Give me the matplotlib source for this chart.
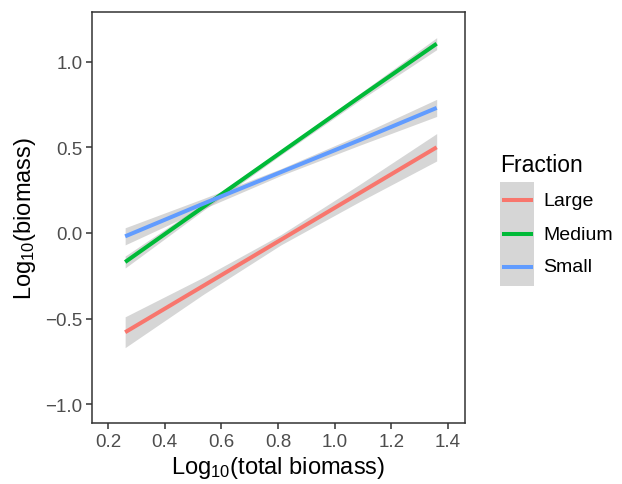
import matplotlib
matplotlib.use("Agg")
import matplotlib.pyplot as plt
from matplotlib.patches import Rectangle
from matplotlib.lines import Line2D

plt.rcParams['font.family'] = ['Liberation Sans', 'DejaVu Sans']
plt.rcParams['mathtext.fontset'] = 'custom'
plt.rcParams['mathtext.rm'] = 'Liberation Sans'
plt.rcParams['mathtext.it'] = 'Liberation Sans:italic'

# Data
x_pts = [0.26, 0.535, 0.81, 1.085, 1.36]
fractions = ["Large", "Medium", "Small"]
fit_large = [-0.58, -0.31, -0.04, 0.23, 0.50]
fit_medium = [-0.17, 0.15, 0.47, 0.79, 1.105]
fit_small = [-0.02, 0.17, 0.355, 0.54, 0.73]
hw_large = [0.09, 0.05, 0.03, 0.05, 0.08]
hw_medium = [0.035, 0.02, 0.015, 0.02, 0.035]
hw_small = [0.05, 0.03, 0.02, 0.03, 0.05]
colors = ["#F8766D", "#00BA38", "#619CFF"]
x_ticks = [0.2, 0.4, 0.6, 0.8, 1.0, 1.2, 1.4]
y_ticks = [-1.0, -0.5, 0.0, 0.5, 1.0]

fits = [fit_large, fit_medium, fit_small]
hws = [hw_large, hw_medium, hw_small]

W, H = 622, 485
fig = plt.figure(figsize=(W / 100, H / 100), dpi=100)
ax = fig.add_axes([92 / W, 1 - 424 / H, (465 - 92) / W, (424 - 13) / H])

for fit, hw in zip(fits, hws):
    lo = [f - h for f, h in zip(fit, hw)]
    hi = [f + h for f, h in zip(fit, hw)]
    ax.fill_between(x_pts, lo, hi, color="#999999", alpha=0.4, linewidth=0)
for fit, c in zip(fits, colors):
    ax.plot(x_pts, fit, color=c, linewidth=2.9, solid_capstyle="butt")

ax.set_xlim(0.143, 1.46)
ax.set_ylim(-1.11, 1.29)
ax.set_xticks(x_ticks)
ax.set_xticklabels([f"{v:.1f}" for v in x_ticks])
ax.set_yticks(y_ticks)
ax.set_yticklabels([f"{v:.1f}".replace("-", "\u2212") for v in y_ticks])
ax.tick_params(axis="both", direction="out", length=4, width=1.1, color="#333333",
               labelsize=13.5, labelcolor="#4D4D4D", pad=3)
for s in ax.spines.values():
    s.set_color("#333333")
    s.set_linewidth(1.1)
ax.set_xlabel("Log$_{10}$(total biomass)", fontsize=17, color="black", labelpad=3)
ax.set_ylabel("Log$_{10}$(biomass)", fontsize=17, color="black", labelpad=5)

# Legend drawn manually in pixel coordinates
def fx(px):
    return px / W

def fy(py):
    return 1 - py / H

fig.text(fx(500), fy(172), "Fraction", fontsize=16.5, ha="left", va="baseline")
fig.patches.append(Rectangle((fx(500), fy(287)), fx(534) - fx(500), fy(183) - fy(287),
                             transform=fig.transFigure, facecolor="#D6D6D6",
                             edgecolor="none"))
key_y = [201, 235, 268]
for name, c, ky in zip(fractions, colors, key_y):
    fig.lines.append(Line2D([fx(504), fx(531)], [fy(ky), fy(ky)], color=c,
                            linewidth=2.9, transform=fig.transFigure))
    fig.text(fx(543), fy(ky), name, fontsize=14, ha="left", va="center")

fig.savefig("out.png", dpi=100)
